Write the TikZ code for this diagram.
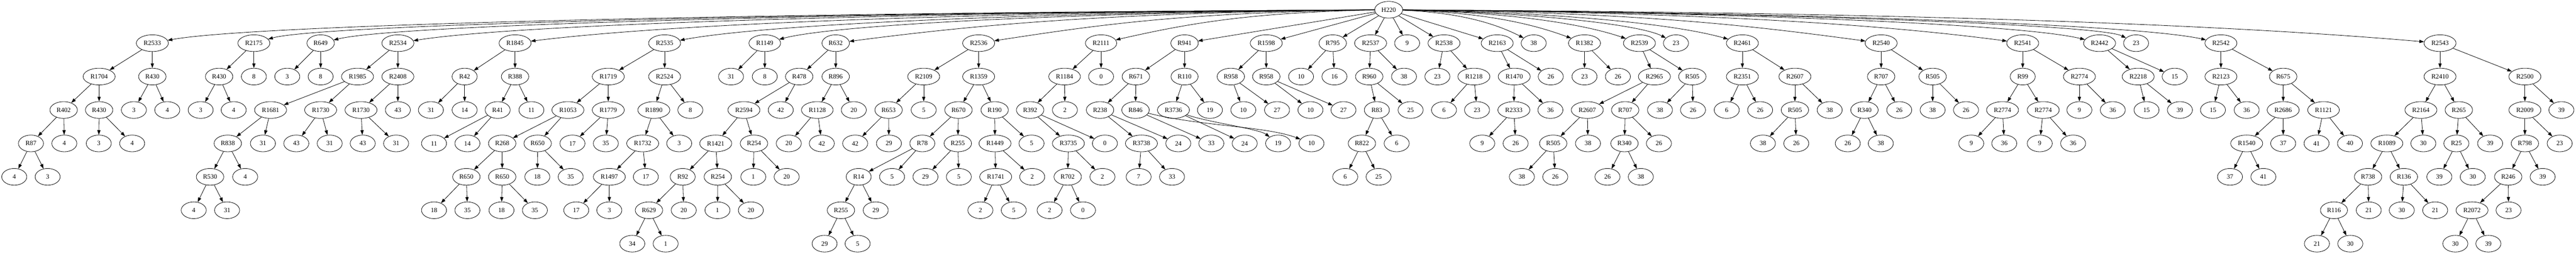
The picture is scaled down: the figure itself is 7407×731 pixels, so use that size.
\documentclass[tikz,border=0pt]{standalone}
\usepackage{fontspec}
\setmainfont{Liberation Serif}
\usetikzlibrary{shapes.geometric,arrows.meta}
\tikzset{
  vert/.style={ellipse,draw,line width=0.9pt,minimum width=54pt,minimum height=36pt,inner xsep=5.75pt,inner ysep=1pt,font=\fontsize{14}{16}\selectfont},
  link/.style={draw,line width=0.9pt,-{Triangle[length=10pt,width=7pt]}}
}
\begin{document}
\begin{tikzpicture}[x=0.75pt,y=-0.75pt]
    \useasboundingbox (0,0) rectangle (7407,731);
    \node[vert] (h220) at (3993,28) {H220};
    \node[vert] (r2533) at (438,123.9) {R2533}; \draw[link] (h220) .. controls (2215.5,36) and (730,70) .. (r2533);
    \node[vert] (r2175) at (730,123.9) {R2175}; \draw[link] (h220) .. controls (2361.5,36) and (922,70) .. (r2175);
    \node[vert] (r649) at (922,123.9) {R649}; \draw[link] (h220) .. controls (2457.5,36) and (1144,70) .. (r649);
    \node[vert] (r2534) at (1144,123.9) {R2534}; \draw[link] (h220) .. controls (2568.5,36) and (1481,70) .. (r2534);
    \node[vert] (r1845) at (1481,123.9) {R1845}; \draw[link] (h220) .. controls (2737,36) and (1911,70) .. (r1845);
    \node[vert] (r2535) at (1911,123.9) {R2535}; \draw[link] (h220) .. controls (2952,36) and (2199,70) .. (r2535);
    \node[vert] (r1149) at (2199,123.9) {R1149}; \draw[link] (h220) .. controls (3096,36) and (2403,70) .. (r1149);
    \node[vert] (r632) at (2403,123.9) {R632}; \draw[link] (h220) .. controls (3198,36) and (2814,70) .. (r632);
    \node[vert] (r2536) at (2814,123.9) {R2536}; \draw[link] (h220) .. controls (3403.5,36) and (3166,70) .. (r2536);
    \node[vert] (r2111) at (3166,123.9) {R2111}; \draw[link] (h220) .. controls (3579.5,36) and (3406,70) .. (r2111);
    \node[vert] (r941) at (3406,123.9) {R941}; \draw[link] (h220) -- (r941);
    \node[vert] (r1598) at (3641,123.9) {R1598}; \draw[link] (h220) -- (r1598);
    \node[vert] (r795) at (3832,123.9) {R795}; \draw[link] (h220) -- (r795);
    \node[vert] (r2537) at (3941,123.9) {R2537}; \draw[link] (h220) -- (r2537);
    \node[vert] (n9a) at (4046,123.9) {9}; \draw[link] (h220) -- (n9a);
    \node[vert] (r2538) at (4152,123.9) {R2538}; \draw[link] (h220) -- (r2538);
    \node[vert] (r2163) at (4305,123.9) {R2163}; \draw[link] (h220) -- (r2163);
    \node[vert] (n38a) at (4410,123.9) {38}; \draw[link] (h220) .. controls (4201.5,36) and (4305,70) .. (n38a);
    \node[vert] (r1382) at (4556,123.9) {R1382}; \draw[link] (h220) .. controls (4274.5,36) and (4410,70) .. (r1382);
    \node[vert] (r2539) at (4714,123.9) {R2539}; \draw[link] (h220) .. controls (4353.5,36) and (4556,70) .. (r2539);
    \node[vert] (n23a) at (4819,123.9) {23}; \draw[link] (h220) .. controls (4406,36) and (4714,70) .. (n23a);
    \node[vert] (r2461) at (5010,123.9) {R2461}; \draw[link] (h220) .. controls (4501.5,36) and (4819,70) .. (r2461);
    \node[vert] (r2540) at (5409,123.9) {R2540}; \draw[link] (h220) .. controls (4701,36) and (5010,70) .. (r2540);
    \node[vert] (r2541) at (5816,123.9) {R2541}; \draw[link] (h220) .. controls (4904.5,36) and (5409,70) .. (r2541);
    \node[vert] (r2442) at (6037,123.9) {R2442}; \draw[link] (h220) .. controls (5015,36) and (5816,70) .. (r2442);
    \node[vert] (n23b) at (6142,123.9) {23}; \draw[link] (h220) .. controls (5067.5,36) and (6037,70) .. (n23b);
    \node[vert] (r2542) at (6386,123.9) {R2542}; \draw[link] (h220) .. controls (5189.5,36) and (6142,70) .. (r2542);
    \node[vert] (r2543) at (7016,123.9) {R2543}; \draw[link] (h220) .. controls (5504.5,36) and (6386,70) .. (r2543);
    \node[vert] (r1704) at (285,219.8) {R1704}; \draw[link] (r2533) -- (r1704);
    \node[vert] (r430a) at (438,219.8) {R430}; \draw[link] (r2533) -- (r430a);
    \node[vert] (r430b) at (630,219.8) {R430}; \draw[link] (r2175) -- (r430b);
    \node[vert] (n8a) at (730,219.8) {8}; \draw[link] (r2175) -- (n8a);
    \node[vert] (n3a) at (826,219.8) {3}; \draw[link] (r649) -- (n3a);
    \node[vert] (n8b) at (922,219.8) {8}; \draw[link] (r649) -- (n8b);
    \node[vert] (r1985) at (1028,219.8) {R1985}; \draw[link] (r2534) -- (r1985);
    \node[vert] (r2408) at (1144,219.8) {R2408}; \draw[link] (r2534) -- (r2408);
    \node[vert] (r42) at (1336,219.8) {R42}; \draw[link] (r1845) -- (r42);
    \node[vert] (r388) at (1481,219.8) {R388}; \draw[link] (r1845) -- (r388);
    \node[vert] (r1719) at (1749,219.8) {R1719}; \draw[link] (r2535) -- (r1719);
    \node[vert] (r2524) at (1911,219.8) {R2524}; \draw[link] (r2535) -- (r2524);
    \node[vert] (n31a) at (2102,219.8) {31}; \draw[link] (r1149) -- (n31a);
    \node[vert] (n8c) at (2199,219.8) {8}; \draw[link] (r1149) -- (n8c);
    \node[vert] (r478) at (2298,219.8) {R478}; \draw[link] (r632) -- (r478);
    \node[vert] (r896) at (2403,219.8) {R896}; \draw[link] (r632) -- (r896);
    \node[vert] (r2109) at (2656,219.8) {R2109}; \draw[link] (r2536) -- (r2109);
    \node[vert] (r1359) at (2814,219.8) {R1359}; \draw[link] (r2536) -- (r1359);
    \node[vert] (r1184) at (3061,219.8) {R1184}; \draw[link] (r2111) -- (r1184);
    \node[vert] (n0a) at (3166,219.8) {0}; \draw[link] (r2111) -- (n0a);
    \node[vert] (r671) at (3266,219.8) {R671}; \draw[link] (r941) -- (r671);
    \node[vert] (r110) at (3406,219.8) {R110}; \draw[link] (r941) -- (r110);
    \node[vert] (r958a) at (3539,219.8) {R958}; \draw[link] (r1598) -- (r958a);
    \node[vert] (r958b) at (3641,219.8) {R958}; \draw[link] (r1598) -- (r958b);
    \node[vert] (n10a) at (3741,219.8) {10}; \draw[link] (r795) -- (n10a);
    \node[vert] (n16a) at (3837,219.8) {16}; \draw[link] (r795) -- (n16a);
    \node[vert] (r960) at (3937,219.8) {R960}; \draw[link] (r2537) -- (r960);
    \node[vert] (n38b) at (4037,219.8) {38}; \draw[link] (r2537) -- (n38b);
    \node[vert] (n23c) at (4133,219.8) {23}; \draw[link] (r2538) -- (n23c);
    \node[vert] (r1218) at (4238,219.8) {R1218}; \draw[link] (r2538) -- (r1218);
    \node[vert] (r1470) at (4354,219.8) {R1470}; \draw[link] (r2163) -- (r1470);
    \node[vert] (n26a) at (4459,219.8) {26}; \draw[link] (r2163) -- (n26a);
    \node[vert] (n23d) at (4556,219.8) {23}; \draw[link] (r1382) -- (n23d);
    \node[vert] (n26b) at (4652,219.8) {26}; \draw[link] (r1382) -- (n26b);
    \node[vert] (r2965) at (4757,219.8) {R2965}; \draw[link] (r2539) -- (r2965);
    \node[vert] (r505a) at (4866,219.8) {R505}; \draw[link] (r2539) -- (r505a);
    \node[vert] (r2351) at (5010,219.8) {R2351}; \draw[link] (r2461) -- (r2351);
    \node[vert] (r2607a) at (5161,219.8) {R2607}; \draw[link] (r2461) -- (r2607a);
    \node[vert] (r707a) at (5409,219.8) {R707}; \draw[link] (r2540) -- (r707a);
    \node[vert] (r505b) at (5557,219.8) {R505}; \draw[link] (r2540) -- (r505b);
    \node[vert] (r99) at (5816,219.8) {R99}; \draw[link] (r2541) -- (r99);
    \node[vert] (r2774a) at (5979,219.8) {R2774}; \draw[link] (r2541) -- (r2774a);
    \node[vert] (r2218) at (6148,219.8) {R2218}; \draw[link] (r2442) -- (r2218);
    \node[vert] (n15a) at (6253,219.8) {15}; \draw[link] (r2442) -- (n15a);
    \node[vert] (r2123) at (6386,219.8) {R2123}; \draw[link] (r2542) -- (r2123);
    \node[vert] (r675) at (6565,219.8) {R675}; \draw[link] (r2542) -- (r675);
    \node[vert] (r2410) at (7016,219.8) {R2410}; \draw[link] (r2543) -- (r2410);
    \node[vert] (r2500) at (7260,219.8) {R2500}; \draw[link] (r2543) -- (r2500);
    \node[vert] (r402) at (183,315.7) {R402}; \draw[link] (r1704) -- (r402);
    \node[vert] (r430c) at (285,315.7) {R430}; \draw[link] (r1704) -- (r430c);
    \node[vert] (n3b) at (385,315.7) {3}; \draw[link] (r430a) -- (n3b);
    \node[vert] (n4a) at (481,315.7) {4}; \draw[link] (r430a) -- (n4a);
    \node[vert] (n3c) at (577,315.7) {3}; \draw[link] (r430b) -- (n3c);
    \node[vert] (n4b) at (672,315.7) {4}; \draw[link] (r430b) -- (n4b);
    \node[vert] (r1681) at (778,315.7) {R1681}; \draw[link] (r1985) -- (r1681);
    \node[vert] (r1730a) at (922,315.7) {R1730}; \draw[link] (r1985) -- (r1730a);
    \node[vert] (r1730b) at (1038,315.7) {R1730}; \draw[link] (r2408) -- (r1730b);
    \node[vert] (n43a) at (1144,315.7) {43}; \draw[link] (r2408) -- (n43a);
    \node[vert] (n31b) at (1239,315.7) {31}; \draw[link] (r42) -- (n31b);
    \node[vert] (n14a) at (1336,315.7) {14}; \draw[link] (r42) -- (n14a);
    \node[vert] (r41) at (1431,315.7) {R41}; \draw[link] (r388) -- (r41);
    \node[vert] (n11a) at (1528,315.7) {11}; \draw[link] (r388) -- (n11a);
    \node[vert] (r1053) at (1633,315.7) {R1053}; \draw[link] (r1719) -- (r1053);
    \node[vert] (r1779) at (1749,315.7) {R1779}; \draw[link] (r1719) -- (r1779);
    \node[vert] (r1890) at (1880,315.7) {R1890}; \draw[link] (r2524) -- (r1890);
    \node[vert] (n8d) at (1985,315.7) {8}; \draw[link] (r2524) -- (n8d);
    \node[vert] (r2594) at (2139,315.7) {R2594}; \draw[link] (r478) -- (r2594);
    \node[vert] (n42a) at (2245,315.7) {42}; \draw[link] (r478) -- (n42a);
    \node[vert] (r1128) at (2350,315.7) {R1128}; \draw[link] (r896) -- (r1128);
    \node[vert] (n20a) at (2455,315.7) {20}; \draw[link] (r896) -- (n20a);
    \node[vert] (r653) at (2555,315.7) {R653}; \draw[link] (r2109) -- (r653);
    \node[vert] (n5a) at (2656,315.7) {5}; \draw[link] (r2109) -- (n5a);
    \node[vert] (r670) at (2756,315.7) {R670}; \draw[link] (r1359) -- (r670);
    \node[vert] (r190) at (2860,315.7) {R190}; \draw[link] (r1359) -- (r190);
    \node[vert] (r392) at (2962,315.7) {R392}; \draw[link] (r1184) -- (r392);
    \node[vert] (n2a) at (3062,315.7) {2}; \draw[link] (r1184) -- (n2a);
    \node[vert] (r238) at (3163,315.7) {R238}; \draw[link] (r671) -- (r238);
    \node[vert] (r846) at (3265,315.7) {R846}; \draw[link] (r671) -- (r846);
    \node[vert] (r3736) at (3374,315.7) {R3736}; \draw[link] (r110) -- (r3736);
    \node[vert] (n19a) at (3479,315.7) {19}; \draw[link] (r110) -- (n19a);
    \node[vert] (n10b) at (3575,315.7) {10}; \draw[link] (r958a) -- (n10b);
    \node[vert] (n27a) at (3672,315.7) {27}; \draw[link] (r958a) -- (n27a);
    \node[vert] (n10c) at (3768,315.7) {10}; \draw[link] (r958b) -- (n10c);
    \node[vert] (n27b) at (3863,315.7) {27}; \draw[link] (r958b) -- (n27b);
    \node[vert] (r83) at (3959,315.7) {R83}; \draw[link] (r960) -- (r83);
    \node[vert] (n25a) at (4056,315.7) {25}; \draw[link] (r960) -- (n25a);
    \node[vert] (n6a) at (4152,315.7) {6}; \draw[link] (r1218) -- (n6a);
    \node[vert] (n23e) at (4247,315.7) {23}; \draw[link] (r1218) -- (n23e);
    \node[vert] (r2333) at (4353,315.7) {R2333}; \draw[link] (r1470) -- (r2333);
    \node[vert] (n36a) at (4458,315.7) {36}; \draw[link] (r1470) -- (n36a);
    \node[vert] (r2607b) at (4564,315.7) {R2607}; \draw[link] (r2965) -- (r2607b);
    \node[vert] (r707b) at (4673,315.7) {R707}; \draw[link] (r2965) -- (r707b);
    \node[vert] (n38c) at (4773,315.7) {38}; \draw[link] (r505a) -- (n38c);
    \node[vert] (n26c) at (4868,315.7) {26}; \draw[link] (r505a) -- (n26c);
    \node[vert] (n6b) at (4965,315.7) {6}; \draw[link] (r2351) -- (n6b);
    \node[vert] (n26d) at (5061,315.7) {26}; \draw[link] (r2351) -- (n26d);
    \node[vert] (r505c) at (5161,315.7) {R505}; \draw[link] (r2607a) -- (r505c);
    \node[vert] (n38d) at (5261,315.7) {38}; \draw[link] (r2607a) -- (n38d);
    \node[vert] (r340a) at (5361,315.7) {R340}; \draw[link] (r707a) -- (r340a);
    \node[vert] (n26e) at (5461,315.7) {26}; \draw[link] (r707a) -- (n26e);
    \node[vert] (n38e) at (5557,315.7) {38}; \draw[link] (r505b) -- (n38e);
    \node[vert] (n26f) at (5653,315.7) {26}; \draw[link] (r505b) -- (n26f);
    \node[vert] (r2774b) at (5758,315.7) {R2774}; \draw[link] (r99) -- (r2774b);
    \node[vert] (r2774c) at (5875,315.7) {R2774}; \draw[link] (r99) -- (r2774c);
    \node[vert] (n9b) at (5979,315.7) {9}; \draw[link] (r2774a) -- (n9b);
    \node[vert] (n36b) at (6075,315.7) {36}; \draw[link] (r2774a) -- (n36b);
    \node[vert] (n15b) at (6172,315.7) {15}; \draw[link] (r2218) -- (n15b);
    \node[vert] (n39a) at (6268,315.7) {39}; \draw[link] (r2218) -- (n39a);
    \node[vert] (n15c) at (6363,315.7) {15}; \draw[link] (r2123) -- (n15c);
    \node[vert] (n36c) at (6460,315.7) {36}; \draw[link] (r2123) -- (n36c);
    \node[vert] (r2686) at (6565,315.7) {R2686}; \draw[link] (r675) -- (r2686);
    \node[vert] (r1121) at (6681,315.7) {R1121}; \draw[link] (r675) -- (r1121);
    \node[vert] (r2164) at (6961,315.7) {R2164}; \draw[link] (r2410) -- (r2164);
    \node[vert] (r265) at (7070,315.7) {R265}; \draw[link] (r2410) -- (r265);
    \node[vert] (r2009) at (7260,315.7) {R2009}; \draw[link] (r2500) -- (r2009);
    \node[vert] (n39b) at (7365,315.7) {39}; \draw[link] (r2500) -- (n39b);
    \node[vert] (r87) at (89,411.6) {R87}; \draw[link] (r402) -- (r87);
    \node[vert] (n4c) at (185,411.6) {4}; \draw[link] (r402) -- (n4c);
    \node[vert] (n3d) at (284,411.6) {3}; \draw[link] (r430c) -- (n3d);
    \node[vert] (n4d) at (380,411.6) {4}; \draw[link] (r430c) -- (n4d);
    \node[vert] (r838) at (655,411.6) {R838}; \draw[link] (r1681) -- (r838);
    \node[vert] (n31c) at (756,411.6) {31}; \draw[link] (r1681) -- (n31c);
    \node[vert] (n43b) at (852,411.6) {43}; \draw[link] (r1730a) -- (n43b);
    \node[vert] (n31d) at (948,411.6) {31}; \draw[link] (r1730a) -- (n31d);
    \node[vert] (n43c) at (1043,411.6) {43}; \draw[link] (r1730b) -- (n43c);
    \node[vert] (n31e) at (1139,411.6) {31}; \draw[link] (r1730b) -- (n31e);
    \node[vert] (n11b) at (1248,411.6) {11}; \draw[link] (r41) -- (n11b);
    \node[vert] (n14b) at (1344,411.6) {14}; \draw[link] (r41) -- (n14b);
    \node[vert] (r268) at (1444,411.6) {R268}; \draw[link] (r1053) -- (r268);
    \node[vert] (r650a) at (1546,411.6) {R650}; \draw[link] (r1053) -- (r650a);
    \node[vert] (n17a) at (1646,411.6) {17}; \draw[link] (r1779) -- (n17a);
    \node[vert] (n35a) at (1742,411.6) {35}; \draw[link] (r1779) -- (n35a);
    \node[vert] (r1732) at (1848,411.6) {R1732}; \draw[link] (r1890) -- (r1732);
    \node[vert] (n3e) at (1953,411.6) {3}; \draw[link] (r1890) -- (n3e);
    \node[vert] (r1421) at (2058,411.6) {R1421}; \draw[link] (r2594) -- (r1421);
    \node[vert] (r254a) at (2168,411.6) {R254}; \draw[link] (r2594) -- (r254a);
    \node[vert] (n20b) at (2268,411.6) {20}; \draw[link] (r1128) -- (n20b);
    \node[vert] (n42b) at (2363,411.6) {42}; \draw[link] (r1128) -- (n42b);
    \node[vert] (n42c) at (2459,411.6) {42}; \draw[link] (r653) -- (n42c);
    \node[vert] (n29a) at (2556,411.6) {29}; \draw[link] (r653) -- (n29a);
    \node[vert] (r78) at (2652,411.6) {R78}; \draw[link] (r670) -- (r78);
    \node[vert] (r255a) at (2754,411.6) {R255}; \draw[link] (r670) -- (r255a);
    \node[vert] (r1449) at (2861,411.6) {R1449}; \draw[link] (r190) -- (r1449);
    \node[vert] (n5b) at (2966,411.6) {5}; \draw[link] (r190) -- (n5b);
    \node[vert] (r3735) at (3072,411.6) {R3735}; \draw[link] (r392) -- (r3735);
    \node[vert] (n0b) at (3177,411.6) {0}; \draw[link] (r392) -- (n0b);
    \node[vert] (r3738) at (3282,411.6) {R3738}; \draw[link] (r238) -- (r3738);
    \node[vert] (n24a) at (3388,411.6) {24}; \draw[link] (r238) -- (n24a);
    \node[vert] (n33a) at (3483,411.6) {33}; \draw[link] (r846) -- (n33a);
    \node[vert] (n24b) at (3579,411.6) {24}; \draw[link] (r3736) -- (n24b);
    \node[vert] (n19b) at (3675,411.6) {19}; \draw[link] (r3736) .. controls (3470,350) and (3620,370) .. (n19b);
    \node[vert] (n10d) at (3771,411.6) {10}; \draw[link] (r846) .. controls (3450,362) and (3640,362) .. (n10d);
    \node[vert] (r822) at (3916,411.6) {R822}; \draw[link] (r83) -- (r822);
    \node[vert] (n6c) at (4016,411.6) {6}; \draw[link] (r83) -- (n6c);
    \node[vert] (n9c) at (4262,411.6) {9}; \draw[link] (r2333) -- (n9c);
    \node[vert] (n26g) at (4358,411.6) {26}; \draw[link] (r2333) -- (n26g);
    \node[vert] (r505d) at (4466,411.6) {R505}; \draw[link] (r2607b) -- (r505d);
    \node[vert] (n38f) at (4566,411.6) {38}; \draw[link] (r2607b) -- (n38f);
    \node[vert] (r340b) at (4671,411.6) {R340}; \draw[link] (r707b) -- (r340b);
    \node[vert] (n26h) at (4770,411.6) {26}; \draw[link] (r707b) -- (n26h);
    \node[vert] (n38g) at (5069,411.6) {38}; \draw[link] (r505c) -- (n38g);
    \node[vert] (n26i) at (5165,411.6) {26}; \draw[link] (r505c) -- (n26i);
    \node[vert] (n26j) at (5313,411.6) {26}; \draw[link] (r340a) -- (n26j);
    \node[vert] (n38h) at (5408,411.6) {38}; \draw[link] (r340a) -- (n38h);
    \node[vert] (n9d) at (5668,411.6) {9}; \draw[link] (r2774b) -- (n9d);
    \node[vert] (n36d) at (5763,411.6) {36}; \draw[link] (r2774b) -- (n36d);
    \node[vert] (n9e) at (5865,411.6) {9}; \draw[link] (r2774c) -- (n9e);
    \node[vert] (n36e) at (5961,411.6) {36}; \draw[link] (r2774c) -- (n36e);
    \node[vert] (r1540) at (6460,411.6) {R1540}; \draw[link] (r2686) -- (r1540);
    \node[vert] (n37a) at (6565,411.6) {37}; \draw[link] (r2686) -- (n37a);
    \node[vert] (n41a) at (6661,411.6) {41}; \draw[link] (r1121) -- (n41a);
    \node[vert] (n40a) at (6757,411.6) {40}; \draw[link] (r1121) -- (n40a);
    \node[vert] (r1089) at (6863,411.6) {R1089}; \draw[link] (r2164) -- (r1089);
    \node[vert] (n30a) at (6968,411.6) {30}; \draw[link] (r2164) -- (n30a);
    \node[vert] (r25) at (7063,411.6) {R25}; \draw[link] (r265) -- (r25);
    \node[vert] (n39c) at (7160,411.6) {39}; \draw[link] (r265) -- (n39c);
    \node[vert] (r798) at (7260,411.6) {R798}; \draw[link] (r2009) -- (r798);
    \node[vert] (n23f) at (7360,411.6) {23}; \draw[link] (r2009) -- (n23f);
    \node[vert] (n4e) at (41,507.5) {4}; \draw[link] (r87) -- (n4e);
    \node[vert] (n3f) at (137,507.5) {3}; \draw[link] (r87) -- (n3f);
    \node[vert] (r530) at (604,507.5) {R530}; \draw[link] (r838) -- (r530);
    \node[vert] (n4f) at (705,507.5) {4}; \draw[link] (r838) -- (n4f);
    \node[vert] (r650b) at (1341,507.5) {R650}; \draw[link] (r268) -- (r650b);
    \node[vert] (r650c) at (1444,507.5) {R650}; \draw[link] (r268) -- (r650c);
    \node[vert] (n18a) at (1545,507.5) {18}; \draw[link] (r650a) -- (n18a);
    \node[vert] (n35b) at (1641,507.5) {35}; \draw[link] (r650a) -- (n35b);
    \node[vert] (r1497) at (1752,507.5) {R1497}; \draw[link] (r1732) -- (r1497);
    \node[vert] (n17b) at (1857,507.5) {17}; \draw[link] (r1732) -- (n17b);
    \node[vert] (r92) at (1963,507.5) {R92}; \draw[link] (r1421) -- (r92);
    \node[vert] (r254b) at (2064,507.5) {R254}; \draw[link] (r1421) -- (r254b);
    \node[vert] (n1a) at (2166,507.5) {1}; \draw[link] (r254a) -- (n1a);
    \node[vert] (n20c) at (2262,507.5) {20}; \draw[link] (r254a) -- (n20c);
    \node[vert] (r14) at (2469,507.5) {R14}; \draw[link] (r78) -- (r14);
    \node[vert] (n5c) at (2565,507.5) {5}; \draw[link] (r78) -- (n5c);
    \node[vert] (n29b) at (2661,507.5) {29}; \draw[link] (r255a) -- (n29b);
    \node[vert] (n5d) at (2757,507.5) {5}; \draw[link] (r255a) -- (n5d);
    \node[vert] (r1741) at (2863,507.5) {R1741}; \draw[link] (r1449) -- (r1741);
    \node[vert] (n2b) at (2968,507.5) {2}; \draw[link] (r1449) -- (n2b);
    \node[vert] (r702) at (3070,507.5) {R702}; \draw[link] (r3735) -- (r702);
    \node[vert] (n2c) at (3170,507.5) {2}; \draw[link] (r3735) -- (n2c);
    \node[vert] (n7a) at (3274,507.5) {7}; \draw[link] (r3738) -- (n7a);
    \node[vert] (n33b) at (3370,507.5) {33}; \draw[link] (r3738) -- (n33b);
    \node[vert] (n6d) at (3868,507.5) {6}; \draw[link] (r822) -- (n6d);
    \node[vert] (n25b) at (3964,507.5) {25}; \draw[link] (r822) -- (n25b);
    \node[vert] (n38i) at (4376,507.5) {38}; \draw[link] (r505d) -- (n38i);
    \node[vert] (n26k) at (4472,507.5) {26}; \draw[link] (r505d) -- (n26k);
    \node[vert] (n26l) at (4622,507.5) {26}; \draw[link] (r340b) -- (n26l);
    \node[vert] (n38j) at (4718,507.5) {38}; \draw[link] (r340b) -- (n38j);
    \node[vert] (n37b) at (6412,507.5) {37}; \draw[link] (r1540) -- (n37b);
    \node[vert] (n41b) at (6508,507.5) {41}; \draw[link] (r1540) -- (n41b);
    \node[vert] (r738) at (6809,507.5) {R738}; \draw[link] (r1089) -- (r738);
    \node[vert] (r136) at (6912,507.5) {R136}; \draw[link] (r1089) -- (r136);
    \node[vert] (n39d) at (7014,507.5) {39}; \draw[link] (r25) -- (n39d);
    \node[vert] (n30b) at (7110,507.5) {30}; \draw[link] (r25) -- (n30b);
    \node[vert] (r246) at (7212,507.5) {R246}; \draw[link] (r798) -- (r246);
    \node[vert] (n39e) at (7311,507.5) {39}; \draw[link] (r798) -- (n39e);
    \node[vert] (n4g) at (557,603.4) {4}; \draw[link] (r530) -- (n4g);
    \node[vert] (n31f) at (653,603.4) {31}; \draw[link] (r530) -- (n31f);
    \node[vert] (n18b) at (1248,603.4) {18}; \draw[link] (r650b) -- (n18b);
    \node[vert] (n35c) at (1344,603.4) {35}; \draw[link] (r650b) -- (n35c);
    \node[vert] (n18c) at (1442,603.4) {18}; \draw[link] (r650c) -- (n18c);
    \node[vert] (n35d) at (1538,603.4) {35}; \draw[link] (r650c) -- (n35d);
    \node[vert] (n17c) at (1657,603.4) {17}; \draw[link] (r1497) -- (n17c);
    \node[vert] (n3g) at (1752,603.4) {3}; \draw[link] (r1497) -- (n3g);
    \node[vert] (r629) at (1866,603.4) {R629}; \draw[link] (r92) -- (r629);
    \node[vert] (n20d) at (1966,603.4) {20}; \draw[link] (r92) -- (n20d);
    \node[vert] (n1b) at (2063,603.4) {1}; \draw[link] (r254b) -- (n1b);
    \node[vert] (n20e) at (2159,603.4) {20}; \draw[link] (r254b) -- (n20e);
    \node[vert] (r255b) at (2418,603.4) {R255}; \draw[link] (r14) -- (r255b);
    \node[vert] (n29c) at (2518,603.4) {29}; \draw[link] (r14) -- (n29c);
    \node[vert] (n2d) at (2819,603.4) {2}; \draw[link] (r1741) -- (n2d);
    \node[vert] (n5e) at (2915,603.4) {5}; \draw[link] (r1741) -- (n5e);
    \node[vert] (n2e) at (3018,603.4) {2}; \draw[link] (r702) -- (n2e);
    \node[vert] (n0c) at (3114,603.4) {0}; \draw[link] (r702) -- (n0c);
    \node[vert] (r116) at (6711,603.4) {R116}; \draw[link] (r738) -- (r116);
    \node[vert] (n21a) at (6811,603.4) {21}; \draw[link] (r738) -- (n21a);
    \node[vert] (n30c) at (6906,603.4) {30}; \draw[link] (r136) -- (n30c);
    \node[vert] (n21b) at (7002,603.4) {21}; \draw[link] (r136) -- (n21b);
    \node[vert] (r2072) at (7108,603.4) {R2072}; \draw[link] (r246) -- (r2072);
    \node[vert] (n23g) at (7213,603.4) {23}; \draw[link] (r246) -- (n23g);
    \node[vert] (n34a) at (1818,699.3) {34}; \draw[link] (r629) -- (n34a);
    \node[vert] (n1c) at (1914,699.3) {1}; \draw[link] (r629) -- (n1c);
    \node[vert] (n29d) at (2371,699.3) {29}; \draw[link] (r255b) -- (n29d);
    \node[vert] (n5f) at (2466,699.3) {5}; \draw[link] (r255b) -- (n5f);
    \node[vert] (n21c) at (6662,699.3) {21}; \draw[link] (r116) -- (n21c);
    \node[vert] (n30d) at (6758,699.3) {30}; \draw[link] (r116) -- (n30d);
    \node[vert] (n30e) at (7060,699.3) {30}; \draw[link] (r2072) -- (n30e);
    \node[vert] (n39f) at (7155,699.3) {39}; \draw[link] (r2072) -- (n39f);
\end{tikzpicture}
\end{document}
